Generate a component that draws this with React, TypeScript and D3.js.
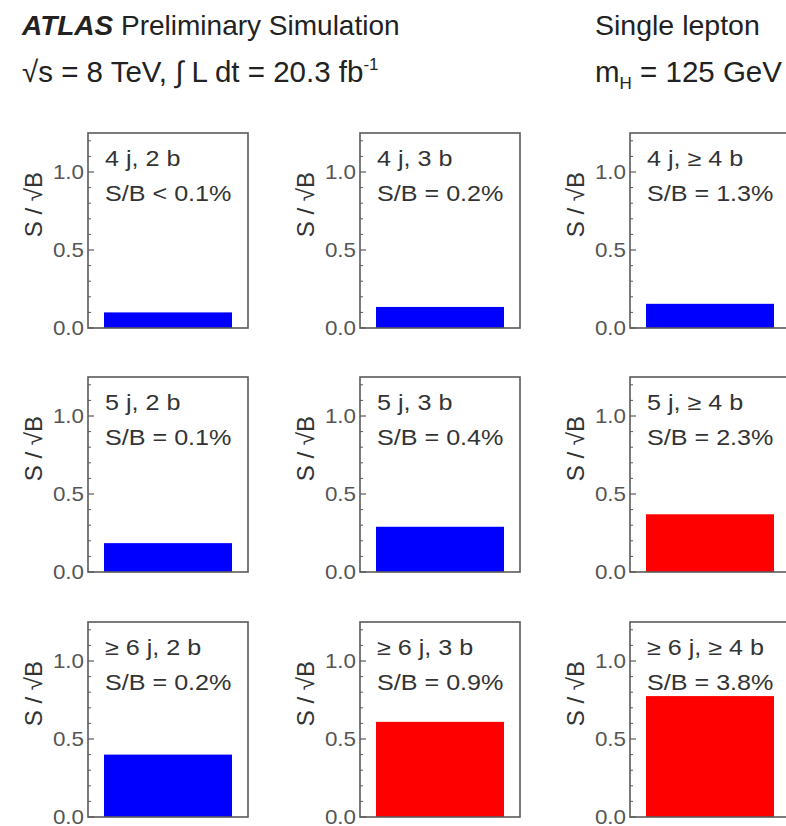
import React from "react";
import * as d3 from "d3";

const jetLabels = ["4 j", "5 j", "≥ 6 j"];
const bLabels = ["2 b", "3 b", "≥ 4 b"];
const sbTexts = [
  ["< 0.1%", "= 0.2%", "= 1.3%"],
  ["= 0.1%", "= 0.4%", "= 2.3%"],
  ["= 0.2%", "= 0.9%", "= 3.8%"],
];
const sOverSqrtB = [
  [0.1, 0.135, 0.155],
  [0.185, 0.29, 0.37],
  [0.4, 0.61, 0.775],
];
const signalRich = [
  [false, false, false],
  [false, false, true],
  [false, true, true],
];
const majorTicks = [0, 0.5, 1.0];
const minorTicks = [0.1, 0.2, 0.3, 0.4, 0.6, 0.7, 0.8, 0.9, 1.1, 1.2];

const W = 786;
const H = 826;
const FONT = "'Liberation Sans', Arial, Helvetica, sans-serif";
const panelW = 160;
const panelH = 195;
const colX = [88, 360, 630];
const rowY = [133, 377, 622];

const y = d3.scaleLinear().domain([0, 1.25]).range([panelH, 0]);
const x = d3.scaleLinear().domain([0, 1]).range([0, panelW]);

function Panel({ r, c }: { r: number; c: number }) {
  const v = sOverSqrtB[r][c];
  const color = signalRich[r][c] ? "#ff0000" : "#0000ff";
  const frame = "#5a5a5a";
  return (
    <g transform={`translate(${colX[c]},${rowY[r]})`}>
      <rect
        x={x(0.1)}
        y={y(v)}
        width={x(0.9) - x(0.1)}
        height={y(0) - y(v)}
        fill={color}
      />
      <rect x={0} y={0} width={panelW} height={panelH} fill="none" stroke={frame} strokeWidth={1.6} />
      {majorTicks.map((t) => (
        <g key={"M" + t}>
          <line x1={0} x2={6} y1={y(t)} y2={y(t)} stroke={frame} strokeWidth={1.2} />
          <g transform={`translate(-4,${y(t) + 7}) scale(1.12,1)`}>
            <text textAnchor="end" fontSize={20} fill="#555" fontFamily={FONT}>
              {t.toFixed(1)}
            </text>
          </g>
        </g>
      ))}
      {minorTicks.map((t) => (
        <line key={"m" + t} x1={0} x2={3} y1={y(t)} y2={y(t)} stroke={frame} strokeWidth={1} />
      ))}
      <text
        transform={`translate(-46,39) rotate(-90)`}
        textAnchor="end"
        fontSize={24}
        fill="#333"
        fontFamily={FONT}
      >
        S / √B
      </text>
      <g transform={`translate(17,33) scale(1.17,1)`}>
        <text fontSize={21.5} fill="#333" fontFamily={FONT}>
          {`${jetLabels[r]}, ${bLabels[c]}`}
        </text>
      </g>
      <g transform={`translate(17,68) scale(1.17,1)`}>
        <text fontSize={21.5} fill="#333" fontFamily={FONT}>
          {`S/B ${sbTexts[r][c]}`}
        </text>
      </g>
    </g>
  );
}

export default function App() {
  const cells: Array<[number, number]> = [];
  for (let r = 0; r < 3; r++) for (let c = 0; c < 3; c++) cells.push([r, c]);
  return (
    <svg
      width={W}
      height={H}
      style={{ position: "absolute", left: 0, top: 0, background: "#fff" }}
      fontFamily={FONT}
    >
      <rect x={0} y={0} width={W} height={H} fill="#fff" />
      <text x={22} y={35} fontSize={28} fill="#222">
        <tspan fontWeight="bold" fontStyle="italic">ATLAS</tspan>
        <tspan> Preliminary Simulation</tspan>
      </text>
      <text x={22} y={82} fontSize={29.5} fill="#222">
        <tspan>√s = 8 TeV, ∫ L dt = 20.3 fb</tspan>
        <tspan fontSize={17} dy={-12}>-1</tspan>
      </text>
      <text x={595} y={35} fontSize={28.5} fill="#222">
        Single lepton
      </text>
      <text x={595} y={82} fontSize={29.5} fill="#222">
        <tspan>m</tspan>
        <tspan fontSize={17} dy={7}>H</tspan>
        <tspan dy={-7}> = 125 GeV</tspan>
      </text>
      {cells.map(([r, c]) => (
        <Panel key={`${r}-${c}`} r={r} c={c} />
      ))}
    </svg>
  );
}
